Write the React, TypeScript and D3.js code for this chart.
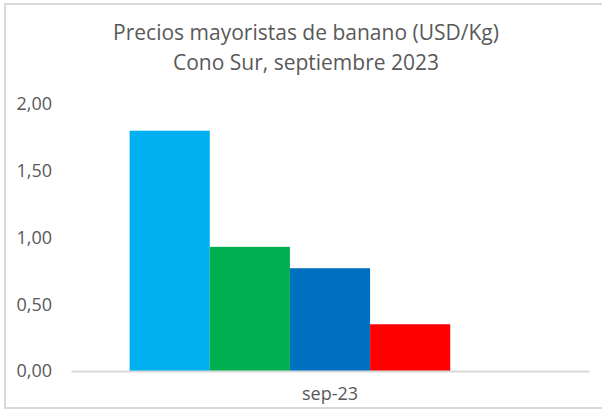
import { useEffect, useRef } from "react";
import * as d3 from "d3";

// precios mayoristas de banano, sep-23 (USD/Kg)
const categories = ["sep-23"];
const seriesNames = ["S1", "S2", "S3", "S4", "S5"];
const seriesValues = [1.8, 0.93, 0.77, 0.35, null];
const seriesColors = ["#00B0F0", "#00B050", "#0070C0", "#FF0000", "#FFFFFF"];
const yTicks = [0, 0.5, 1, 1.5, 2];
const titleLines = ["Precios mayoristas de banano (USD/Kg)", "Cono Sur, septiembre 2023"];

const W = 602;
const H = 411;

const App = () => {
  const ref = useRef<SVGSVGElement>(null);

  useEffect(() => {
    const svg = d3.select(ref.current);
    svg.selectAll("*").remove();

    const margin = { top: 104, right: 13, bottom: 40, left: 71 };
    const width = W - margin.left - margin.right;
    const height = H - margin.top - margin.bottom;
    const font = "'Open Sans', sans-serif";

    // chart border
    svg
      .append("rect")
      .attr("x", 5)
      .attr("y", 4)
      .attr("width", W + 10)
      .attr("height", 404)
      .attr("fill", "#fff")
      .attr("stroke", "#D9D9D9")
      .attr("stroke-width", 2);

    svg
      .append("g")
      .selectAll("text")
      .data(titleLines)
      .enter()
      .append("text")
      .attr("x", 306)
      .attr("y", (d, i) => 40 + i * 30)
      .attr("text-anchor", "middle")
      .attr("font-family", font)
      .attr("font-size", 21)
      .attr("fill", "#595959")
      .text((d) => d);

    const g = svg.append("g").attr("transform", "translate(" + margin.left + "," + margin.top + ")");

    const x0 = d3.scaleBand().domain(categories).range([0, width]).paddingInner(0).paddingOuter(0.1463);
    const x1 = d3.scaleBand().domain(seriesNames).range([0, x0.bandwidth()]).padding(0);
    const y = d3.scaleLinear().domain([0, 2]).range([height, 0]);

    const rows = categories.map((c) => ({
      cat: c,
      vals: seriesNames.map((s, i) => ({ s, v: seriesValues[i], color: seriesColors[i] })),
    }));

    g.selectAll(".cat")
      .data(rows)
      .enter()
      .append("g")
      .attr("transform", (d) => "translate(" + x0(d.cat) + ",0)")
      .selectAll("rect")
      .data((d) => d.vals.filter((v) => v.v != null))
      .enter()
      .append("rect")
      .attr("x", (d) => x1(d.s) as number)
      .attr("width", x1.bandwidth())
      .attr("y", (d) => y(d.v as number))
      .attr("height", (d) => height - y(d.v as number))
      .attr("fill", (d) => d.color);

    // y axis labels (no line)
    const yAxis = g.append("g").call(
      d3
        .axisLeft(y)
        .tickValues(yTicks)
        .tickSize(0)
        .tickPadding(19)
        .tickFormat((d) => d3.format(".2f")(d as number).replace(".", ","))
    );
    yAxis.select(".domain").remove();
    yAxis.selectAll("text").attr("font-family", font).attr("font-size", 18).attr("fill", "#595959");

    // x axis
    const xAxis = g
      .append("g")
      .attr("transform", "translate(0," + height + ")")
      .call(d3.axisBottom(x0.copy().paddingOuter(0)).tickSize(0).tickPadding(16));
    xAxis.select(".domain").attr("stroke", "#D9D9D9").attr("stroke-width", 2);
    xAxis.selectAll("text").attr("font-family", font).attr("font-size", 18).attr("fill", "#595959");
  }, []);

  return <svg ref={ref} width={W} height={H} style={{ display: "block", position: "absolute", left: 0, top: 0 }} />;
};

export default App;
